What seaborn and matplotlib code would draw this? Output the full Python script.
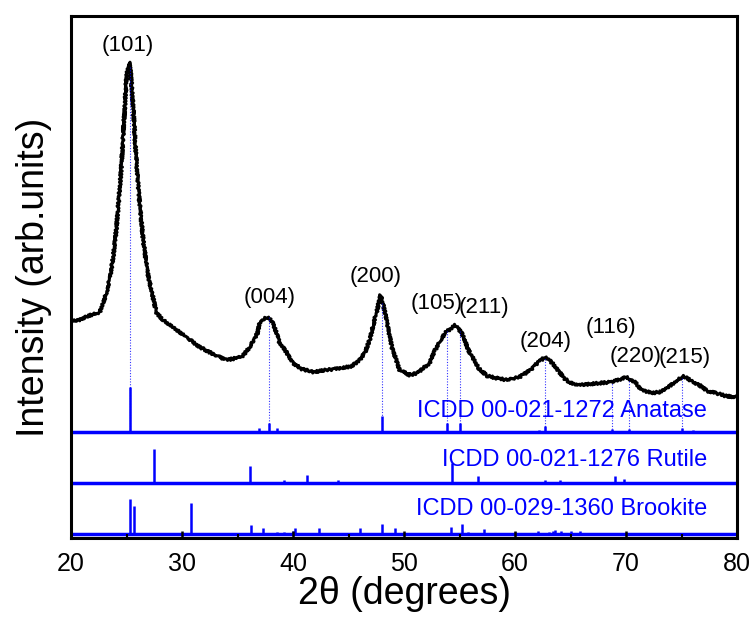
import numpy as np
import pandas as pd
import matplotlib
matplotlib.use('Agg')
import matplotlib.pyplot as plt
import seaborn as sns
from matplotlib.ticker import MultipleLocator

sns.set_style("white")
plt.rcParams['font.family'] = ['Liberation Sans', 'DejaVu Sans']
plt.rcParams['text.color'] = 'black'
plt.rcParams['axes.labelcolor'] = 'black'
plt.rcParams['xtick.color'] = 'black'

# measured XRD pattern (2theta, intensity in arb. units)
two_theta = [20.0, 20.5, 21.5, 22.6, 22.9, 23.2, 23.5, 23.8, 24.1, 24.5, 24.71, 25.0, 25.22,
             25.38, 25.6, 25.77, 26.07, 26.5, 26.9, 27.1, 27.7, 28.3, 29.5, 30.5, 31.6,
             32.8, 34.0, 35.4, 36.1, 36.8, 37.0, 37.5, 37.8, 38.2, 38.8, 39.4, 40.0,
             40.8, 41.8, 43.0, 44.5, 45.3, 46.0, 46.5, 46.9, 47.5, 47.9, 48.3, 48.9,
             49.6, 50.5, 51.2, 52.3, 52.8, 53.7, 54.6, 55.2, 55.8, 56.7, 57.5, 58.3,
             59.3, 60.4, 61.4, 61.8, 62.7, 63.1, 63.5, 64.0, 64.4, 65.0, 65.9, 67.7,
             68.6, 69.3, 70.0, 70.8, 71.4, 72.0, 72.4, 73.0, 73.8, 74.5, 75.2, 75.9,
             76.6, 77.3, 78.1, 79.0, 80.0]
intensity = [218, 217, 222, 226, 236, 245, 260, 281, 311, 365, 405, 461, 476,
             465, 431, 398, 348, 298, 265, 255, 225, 218, 208, 200, 191,
             184, 178, 181, 191, 205, 215, 220, 221, 215, 195, 186, 175,
             169, 166, 168, 170, 172, 178, 186, 198, 225, 243, 225, 191,
             168, 163, 165, 175, 188, 205, 213, 205, 188, 170, 162, 160,
             158, 161, 168, 173, 181, 178, 173, 166, 160, 155, 153, 155,
             156, 158, 161, 156, 148, 146, 145, 146, 151, 157, 162, 157,
             153, 147, 145, 142, 141]

# ICDD reference cards (2theta, relative intensity %)
anatase_pos = [25.28, 36.95, 37.80, 38.58, 48.05, 53.89, 55.06, 62.12, 62.69, 68.76, 70.31, 75.03, 76.02]
anatase_int = [100, 10, 20, 10, 35, 20, 20, 4, 14, 6, 6, 10, 4]
rutile_pos = [27.45, 36.09, 39.19, 41.23, 44.05, 54.32, 56.64, 62.74, 64.04, 65.48, 69.01, 69.79, 72.41, 74.41, 76.51, 79.82]
rutile_int = [100, 50, 8, 25, 10, 60, 20, 10, 10, 2, 20, 12, 2, 1, 4, 2]
brookite_pos = [25.34, 25.69, 30.81, 32.79, 36.25, 37.30, 38.37, 38.57, 39.21, 39.97, 40.15, 42.34,
                46.07, 48.01, 49.17, 49.69, 52.01, 54.20, 55.23, 55.72, 57.18, 57.68, 59.99,
                62.06, 63.06, 63.44, 63.64, 64.10, 64.55, 65.01, 65.88, 68.77, 70.43, 71.46,
                71.94, 73.66, 76.96, 79.27]
brookite_int = [100, 80, 90, 4, 25, 18, 4, 5, 5, 8, 18, 16,
                16, 30, 18, 3, 3, 20, 30, 5, 13, 2, 7,
                10, 5, 9, 12, 10, 4, 9, 8, 4, 3, 2,
                3, 1, 4, 2]

# Miller indices of the anatase reflections
hkl_labels = ['(101)', '(004)', '(200)', '(105)', '(211)', '(204)', '(116)', '(220)', '(215)']
hkl_x = [25.1, 37.9, 47.4, 52.9, 57.2, 62.8, 68.6, 70.9, 75.3]
hkl_y = [493, 241, 262, 235, 231, 197, 211, 182, 181]
hkl_lines = [25.28, 37.80, 48.05, 53.89, 55.06, 62.69, 68.76, 70.31, 75.03]

blue = '#0000ff'
fig = plt.figure(figsize=(7.53, 6.17), dpi=100)
ax = fig.add_axes([0.0943, 0.128, 0.8845, 0.846])

df = pd.DataFrame({'2theta': two_theta, 'I': intensity})
sns.lineplot(data=df, x='2theta', y='I', color='black', lw=2.2, ax=ax)
ax.lines[0].set_sketch_params(scale=1.2, length=3, randomness=2)

# reference patterns: (positions, intensities, baseline, scale, label, label y)
cards = [
    (anatase_pos, anatase_int, 106, 0.45, 'ICDD 00-021-1272 Anatase', 127),
    (rutile_pos, rutile_int, 55, 0.34, 'ICDD 00-021-1276 Rutile', 78),
    (brookite_pos, brookite_int, 4, 0.35, 'ICDD 00-029-1360 Brookite', 29),
]
for pos, rel, base, scale, label, ly in cards:
    ax.axhline(base, color=blue, lw=2.5, zorder=2)
    ax.vlines(pos, base, base + np.array(rel) * scale, color=blue, lw=1.8, zorder=2)
    ax.text(77.3, ly, label, color=blue, fontsize=17, ha='right', va='center')

tops = np.interp(hkl_lines, two_theta, intensity)
ax.vlines(hkl_lines, 106, tops, color=blue, lw=0.8, linestyles=(0, (1, 1.5)), alpha=0.8)

for lab, x, y in zip(hkl_labels, hkl_x, hkl_y):
    ax.text(x, y, lab, fontsize=16, ha='center', va='center', color='black')

ax.set_xlim(20, 80)
ax.set_ylim(0, 522)
ax.set_yticks([])
ax.set_axisbelow(False)
ax.xaxis.set_major_locator(MultipleLocator(10))
ax.xaxis.set_minor_locator(MultipleLocator(5))
ax.tick_params(axis='x', which='major', direction='in', length=5, width=1.8,
               labelsize=18, pad=10, bottom=True, color='black', labelcolor='black')
ax.tick_params(axis='x', which='minor', direction='in', length=3, width=1.5, bottom=True, color='black')
for s in ax.spines.values():
    s.set_linewidth(2.2)
    s.set_color('black')

ax.set_xlabel('2θ (degrees)', fontsize=27, labelpad=0, color='black')
ax.set_ylabel('Intensity (arb.units)', fontsize=27, labelpad=14, color='black')

plt.savefig('out.png', dpi=100)
plt.close()
